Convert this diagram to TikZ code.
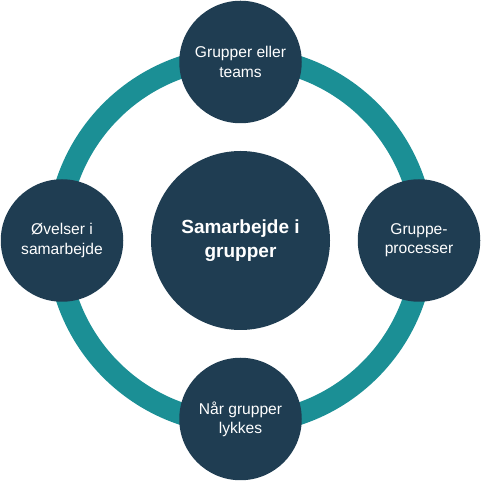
\documentclass[tikz,border=0pt]{standalone}
\usepackage{fontspec}
\setmainfont{Liberation Sans}
\usepackage{tikz}
\usetikzlibrary{positioning,backgrounds}
\definecolor{navy}{RGB}{31,61,82}
\definecolor{teal}{RGB}{27,143,149}
\tikzset{%
	hubnode/.style={circle, fill=navy, text=white, inner sep=0pt, minimum size=179pt, align=center, font=\bfseries\fontsize{19}{23.3}\selectfont},
	spokenode/.style={circle, fill=navy, text=white, inner sep=0pt, minimum size=122.5pt, align=center, font=\fontsize{15.6}{19.3}\selectfont},
	ring/.style={draw=teal, line width=22pt}
}
\begin{document}
\begin{tikzpicture}[x=1pt, y=1pt, node distance=178.5pt]
		\useasboundingbox (0,0) rectangle (481,481);
		\node[hubnode] (mid) at (240.5,240.5) {Samarbejde i\\grupper};
		\node[spokenode] (teams) [above of=mid] {Grupper eller\\teams};
		\node[spokenode] (proc) [right of=mid] {Gruppe-\\processer};
		\node[spokenode] (lykkes) [below of=mid] {Når grupper\\lykkes};
		\node[spokenode] (ovelser) [left of=mid] {Øvelser i\\samarbejde};
		
		\begin{scope}[on background layer]
			\draw[ring] (mid) circle[radius=183pt];
		\end{scope}
	\end{tikzpicture}
\end{document}
